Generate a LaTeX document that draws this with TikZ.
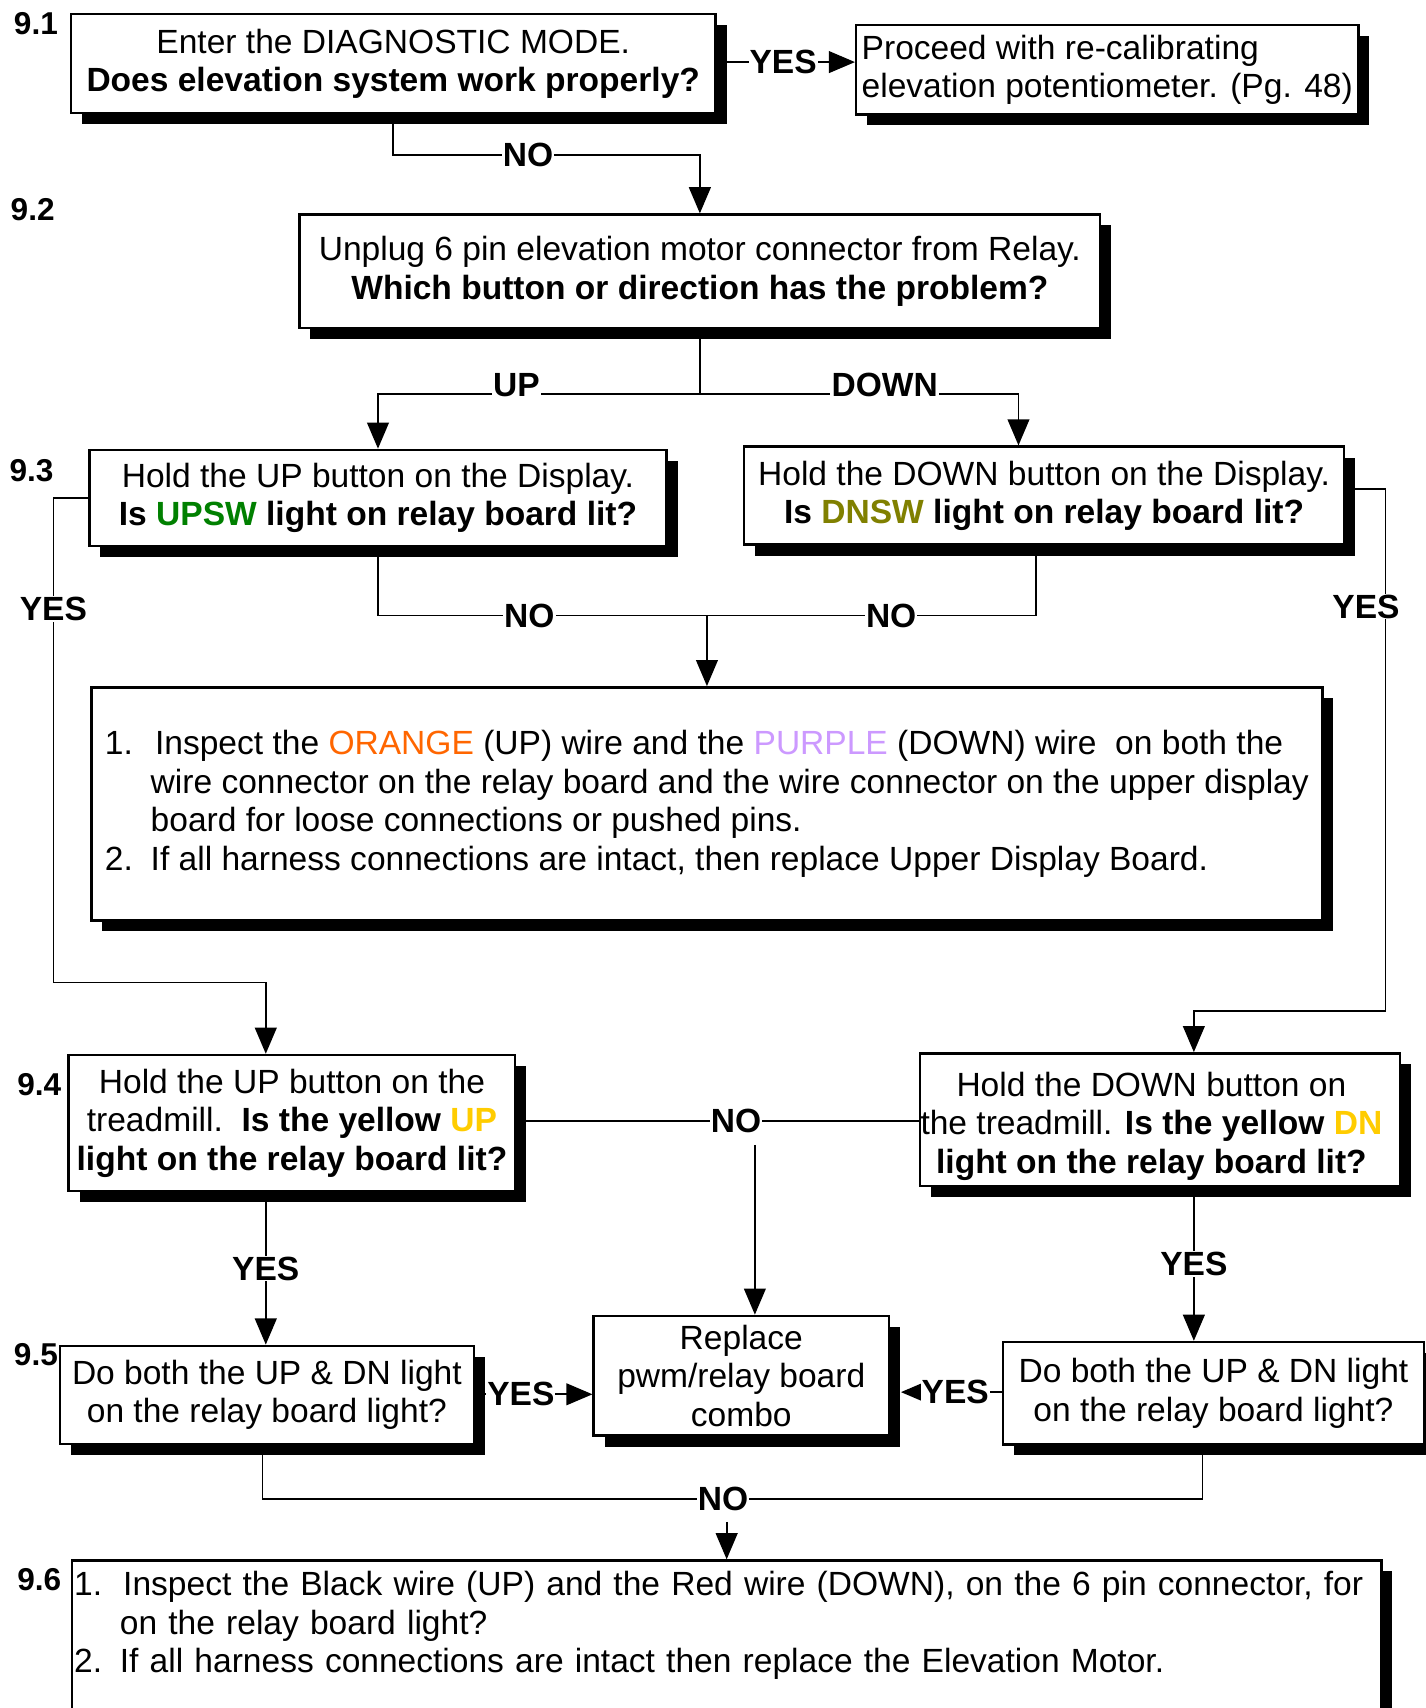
\documentclass[tikz,border=0pt]{standalone}
\usepackage{fontspec}
\setmainfont{Liberation Sans}
\usetikzlibrary{shadows,arrows.meta,calc}
\definecolor{cgreen}{HTML}{008000}
\definecolor{colive}{HTML}{808000}
\definecolor{corange}{HTML}{FF6600}
\definecolor{cpurple}{HTML}{CC99FF}
\definecolor{cyellow}{HTML}{FFCC00}
\begin{document}
\begin{tikzpicture}[x=1pt,y=-1pt,
  box/.style={draw, line width=2.2pt, fill=white, inner xsep=4pt, inner ysep=2pt, align=center,
    font=\fontsize{30.8}{35.3}\selectfont,
    drop shadow={shadow xshift=10pt, shadow yshift=-10pt, fill=black, opacity=1}},
  conn/.style={line width=1.6pt},
  arr/.style={conn, -{Triangle[length=24pt,width=20pt]}},
  lbl/.style={fill=white, inner sep=1pt, font=\fontsize{30.8}{35}\selectfont\bfseries},
  toplbl/.style={lbl, anchor=base, yshift=-2pt},
  num/.style={font=\fontsize{29}{30}\selectfont\bfseries, inner sep=0pt}
]
\useasboundingbox[fill=white] (0,0) rectangle (1309,1568);

% step numbers
\node[num] (s1) at (33,22) {9.1};
\node[num] (s2) at (30,192) {9.2};
\node[num] (s3) at (29,432) {9.3};
\node[num] (s4) at (36,996) {9.4};
\node[num] (s5) at (33,1244) {9.5};
\node[num] (s6) at (36,1450) {9.6};

% boxes
\node[box, minimum width=592pt, minimum height=91pt] (n91) at (361,58.5)
  {Enter the DIAGNOSTIC MODE.\\\textbf{Does elevation system work properly?}};
\node[box, align=left, minimum width=461pt, minimum height=82pt] (n91y) at (1016.5,64)
  {Proceed with re-calibrating\\elevation potentiometer. (Pg. 48)};
\node[box, minimum width=735pt, minimum height=104pt] (n92) at (642.5,249)
  {Unplug 6 pin elevation motor connector from Relay.\\\textbf{Which button or direction has the problem?}};
\node[box, minimum width=530pt, minimum height=88pt] (n93u) at (347,457)
  {Hold the UP button on the Display.\\\textbf{Is \textcolor{cgreen}{UPSW} light on relay board lit?}};
\node[box, minimum width=551pt, minimum height=90pt] (n93d) at (958.5,455)
  {Hold the DOWN button on the Display.\\\textbf{Is \textcolor{colive}{DNSW} light on relay board lit?}};
\node[box, align=left, minimum width=1130pt, minimum height=214pt] (ninsp) at (649,738)
  {\makebox[46pt][l]{1.}Inspect the \textcolor{corange}{ORANGE} (UP) wire and the \textcolor{cpurple}{PURPLE} (DOWN) wire\ \ on both the\\
   \hspace*{42pt}wire connector on the relay board and the wire connector on the upper display\\
   \hspace*{42pt}board for loose connections or pushed pins.\\
   \makebox[42pt][l]{2.}If all harness connections are intact, then replace Upper Display Board.};
\node[box, minimum width=410pt, minimum height=125pt] (n94u) at (268,1031)
  {Hold the UP button on the\\treadmill.\ \ \textbf{Is the yellow \textcolor{cyellow}{UP}}\\\textbf{light on the relay board lit?}};
\node[box, minimum width=441pt, minimum height=122pt, inner xsep=0pt, inner ysep=0pt] (n94d) at (1065,1028)
  {\begin{tabular}{@{}c@{\hspace{16pt}}}\rule{0pt}{38pt}Hold the DOWN button on\\the treadmill. \textbf{Is the yellow \textcolor{cyellow}{DN}}\\\textbf{light on the relay board lit?}\end{tabular}};
\node[box, minimum width=271pt, minimum height=110pt] (nrep) at (680.5,1263)
  {Replace\\pwm/relay board\\combo};
\node[box, minimum width=380pt, minimum height=90pt] (n95u) at (245,1280.5)
  {Do both the UP \& DN light\\on the relay board light?};
\node[box, minimum width=387pt, minimum height=94pt] (n95d) at (1114,1279)
  {Do both the UP \& DN light\\on the relay board light?};
\node[box, anchor=north west, align=left, text width=1198pt, inner xsep=2pt, inner ysep=10pt] (n96) at (65,1431.5)
  {\makebox[45pt][l]{1.}Inspect the Black wire (UP) and the Red wire (DOWN), on the 6 pin connector, for\\
   \hspace*{42pt}on the relay board light?\\
   \makebox[42pt][l]{2.}If all harness connections are intact then replace the Elevation Motor.\\
   \mbox{}\\\mbox{}\\\mbox{}};

% connectors
\draw[arr] (n91.east |- 0,57) -- node[lbl,pos=.48]{YES} (n91y.west |- 0,57);
\draw[arr] (n91.south) -- (n91.south |- 0,142) -- node[lbl,pos=.44]{NO} (n92.north |- 0,142) -- (n92.north);

\coordinate (j2) at (n92.south |- 0,362);
\draw[arr] (n92.south) -- (j2) -- node[toplbl,pos=.57]{UP} (n93u.north |- j2) -- (n93u.north);
\draw[arr] (j2) -- node[toplbl,pos=.58]{DOWN} (935,362) -- (935,0 |- n93d.north);

\coordinate (j3) at (ninsp.north |- 0,565);
\draw[conn] (n93u.south) -- (n93u.south |- j3) -- node[lbl,pos=.46]{NO} (j3);
\draw[conn] (951,0 |- n93d.south) -- (951,565) -- node[lbl,pos=.44]{NO} (j3);
\draw[arr] (j3) -- (ninsp.north);

\draw[arr] (n93u.west) -- (49,0 |- n93u.west) -- node[lbl,pos=.23]{YES} (49,902) -- (244,902) -- (244,0 |- n94u.north);
\draw[arr] (n93d.east |- 0,449) -- (1272,449) -- node[lbl,pos=.225,xshift=-18pt]{YES} (1272,928) -- (1096,928) -- (1096,0 |- n94d.north);

\draw[conn] (n94u.east |- 0,1029) -- node[lbl,pos=.546]{NO} (n94d.west |- 0,1029);
\coordinate (nodrop) at (693,1051);
\draw[arr] (nodrop) -- (nodrop |- nrep.north);

\draw[arr] (244,0 |- n94u.south) -- node[lbl]{YES} (244,0 |- n95u.north);
\draw[arr] (1096,0 |- n94d.south) -- node[lbl]{YES} (1096,0 |- n95d.north);

\coordinate (repsh) at ($(nrep.east)+(10,0)$);
\draw[arr] (n95u.east |- 0,1280) -- node[lbl,pos=.39]{YES} (nrep.west |- 0,1280);
\draw[arr] (n95d.west |- 0,1278) -- node[lbl,pos=.46]{YES} (repsh |- 0,1278);

\coordinate (j5) at (n96.north |- 0,1376);
\draw[conn] (241,0 |- n95u.south) -- (241,1376) -- node[lbl,pos=.49]{NO} (1104,1376) -- (1104,0 |- n95d.south);
\draw[arr] (n96.north |- 0,1397) -- (n96.north);
\end{tikzpicture}
\end{document}
